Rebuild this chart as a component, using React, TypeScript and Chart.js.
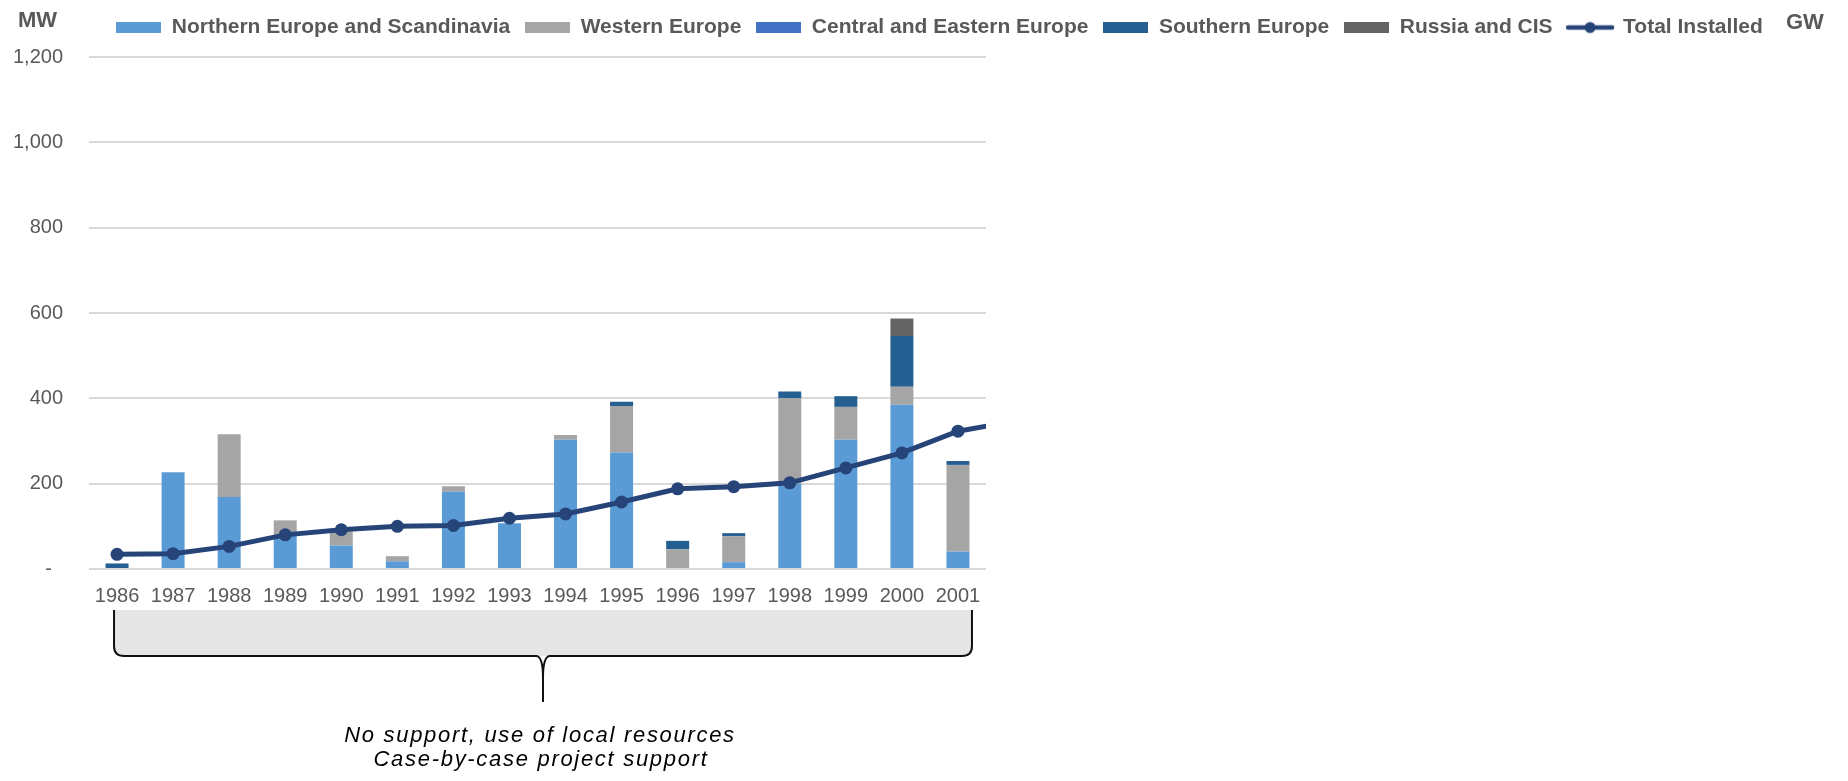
import { useEffect, useRef } from 'react';
import { Chart, registerables } from 'chart.js';

Chart.register(...registerables);

const FONT = '"Liberation Sans", Arial, Helvetica, sans-serif';
const TEXT_GREY = '#595959';

// Years shown on the category axis
const years = ['1986', '1987', '1988', '1989', '1990', '1991', '1992', '1993', '1994', '1995', '1996', '1997', '1998', '1999', '2000', '2001'];

// Annual installations per region, MW
const northernEurope = [0, 227, 169, 80, 55, 18, 181, 107, 303, 273, 0, 16, 200, 303, 385, 41];
const westernEurope = [0, 0, 147, 34, 33, 12, 13, 0, 11, 109, 46, 61, 200, 77, 42, 203];
const centralEasternEurope = [0, 0, 0, 0, 0, 0, 0, 0, 0, 0, 0, 0, 0, 0, 0, 0];
const southernEurope = [13, 0, 0, 0, 0, 0, 0, 0, 0, 10, 20, 7, 16, 25, 119, 9];
const russiaCis = [0, 0, 0, 0, 0, 0, 0, 0, 0, 0, 0, 0, 0, 0, 41, 0];

// Cumulative capacity, GW (last value is 2002, reached beyond the right edge of the plot)
const totalInstalledGW = [0.345, 0.36, 0.53, 0.8, 0.92, 1.0, 1.02, 1.19, 1.29, 1.57, 1.88, 1.93, 2.02, 2.37, 2.72, 3.23, 3.46];

// Left axis ticks, MW
const mwTicks = [0, 200, 400, 600, 800, 1000, 1200];

const COLORS = {
  northern: '#5B9BD5',
  western: '#A5A5A5',
  central: '#4472C4',
  southern: '#255E91',
  russia: '#636363',
  total: '#264478',
};

const footerLines = ['No support, use of local resources', 'Case-by-case project support'];

function rectMarker(color: string): HTMLCanvasElement {
  const c = document.createElement('canvas');
  c.width = 45;
  c.height = 11;
  const g = c.getContext('2d')!;
  g.fillStyle = color;
  g.fillRect(0, 0, 45, 11);
  return c;
}

function lineMarker(color: string): HTMLCanvasElement {
  const c = document.createElement('canvas');
  c.width = 50;
  c.height = 14;
  const g = c.getContext('2d')!;
  g.strokeStyle = color;
  g.lineWidth = 4.5;
  g.lineCap = 'round';
  g.beginPath();
  g.moveTo(3, 7);
  g.lineTo(47, 7);
  g.stroke();
  g.fillStyle = color;
  g.beginPath();
  g.arc(25, 7, 5.5, 0, Math.PI * 2);
  g.fill();
  return c;
}

// Leaves room between the legend row and the top of the plot
const legendGap = {
  id: 'legendGap',
  beforeLayout(chart: any) {
    const lg = chart.legend;
    if (lg && !lg.__gapPatched) {
      const orig = lg.fit;
      lg.fit = function (this: any) {
        orig.call(this);
        this.height += 9;
      };
      lg.__gapPatched = true;
    }
  },
};

// Unit captions and the bracket with its notes under the year axis
const decorations = {
  id: 'decorations',
  afterDraw(chart: any) {
    const { ctx, chartArea } = chart;
    const x = chart.scales.x;
    ctx.save();

    ctx.fillStyle = TEXT_GREY;
    ctx.font = `bold 22px ${FONT}`;
    ctx.textAlign = 'left';
    ctx.textBaseline = 'alphabetic';
    ctx.fillText('MW', 18, 27);
    ctx.fillText('GW', 1786, 29);

    const left = x.getPixelForValue(0) - 3;
    const right = x.getPixelForValue(years.length - 1) + 14;
    const mid = (left + right) / 2;
    const top = chartArea.bottom + 41;
    const base = chartArea.bottom + 87;
    const tip = chartArea.bottom + 133;
    const r = 10;

    ctx.fillStyle = '#E7E6E6';
    ctx.beginPath();
    ctx.moveTo(left, top);
    ctx.lineTo(left, base - r);
    ctx.quadraticCurveTo(left, base, left + r, base);
    ctx.lineTo(right - r, base);
    ctx.quadraticCurveTo(right, base, right, base - r);
    ctx.lineTo(right, top);
    ctx.closePath();
    ctx.fill();

    ctx.strokeStyle = '#111111';
    ctx.lineWidth = 2;
    ctx.beginPath();
    ctx.moveTo(left, top);
    ctx.lineTo(left, base - r);
    ctx.quadraticCurveTo(left, base, left + r, base);
    ctx.lineTo(mid - 7, base);
    ctx.quadraticCurveTo(mid, base, mid, base + 22);
    ctx.lineTo(mid, tip);
    ctx.moveTo(mid, base + 22);
    ctx.quadraticCurveTo(mid, base, mid + 7, base);
    ctx.lineTo(right - r, base);
    ctx.quadraticCurveTo(right, base, right, base - r);
    ctx.lineTo(right, top);
    ctx.stroke();

    ctx.fillStyle = '#000000';
    ctx.font = `italic 22px ${FONT}`;
    (ctx as any).letterSpacing = '1.7px';
    ctx.textAlign = 'center';
    ctx.fillText(footerLines[0], mid - 3, chartArea.bottom + 173);
    ctx.fillText(footerLines[1], mid - 2, chartArea.bottom + 197);
    ctx.restore();
  },
};

export default function App() {
  const canvasRef = useRef<HTMLCanvasElement | null>(null);

  useEffect(() => {
    if (!canvasRef.current) return;
    const markers = [
      rectMarker(COLORS.northern),
      rectMarker(COLORS.western),
      rectMarker(COLORS.central),
      rectMarker(COLORS.southern),
      rectMarker(COLORS.russia),
      lineMarker(COLORS.total),
    ];

    const barCommon = {
      type: 'bar' as const,
      grouped: false,
      barPercentage: 0.41,
      categoryPercentage: 1,
      order: 1,
      borderWidth: 0,
    };

    const chart = new Chart(canvasRef.current, {
      data: {
        labels: years,
        datasets: [
          { ...barCommon, label: 'Northern Europe and Scandinavia', data: northernEurope, backgroundColor: COLORS.northern },
          { ...barCommon, label: 'Western Europe', data: westernEurope, backgroundColor: COLORS.western },
          { ...barCommon, label: 'Central and Eastern Europe', data: centralEasternEurope, backgroundColor: COLORS.central },
          { ...barCommon, label: 'Southern Europe', data: southernEurope, backgroundColor: COLORS.southern },
          { ...barCommon, label: 'Russia and CIS', data: russiaCis, backgroundColor: COLORS.russia },
          {
            type: 'line' as const,
            label: 'Total Installed',
            data: totalInstalledGW.map((v, i) => ({ x: i, y: v })),
            xAxisID: 'xLine',
            yAxisID: 'y1',
            borderColor: COLORS.total,
            backgroundColor: COLORS.total,
            borderWidth: 5,
            pointRadius: 6.5,
            pointBackgroundColor: COLORS.total,
            pointBorderWidth: 0,
            tension: 0,
            order: 0,
          } as any,
        ],
      },
      options: {
        animation: false,
        responsive: false,
        devicePixelRatio: 1,
        font: { family: FONT },
        layout: { padding: { top: 2, left: 31, right: 0, bottom: 158 } },
        plugins: {
          tooltip: { enabled: false },
          title: { display: false },
          legend: {
            position: 'top',
            labels: {
              font: { family: FONT, size: 21, weight: 'bold' },
              color: TEXT_GREY,
              usePointStyle: true,
              pointStyleWidth: 45,
              boxHeight: 11,
              padding: 15,
              sort: (a: any, b: any) => a.datasetIndex - b.datasetIndex,
              generateLabels: (ch: any) => {
                const items = Chart.defaults.plugins.legend.labels.generateLabels(ch);
                items.forEach((it: any) => {
                  it.pointStyle = markers[it.datasetIndex];
                  it.fontColor = TEXT_GREY;
                });
                return items;
              },
            },
          },
        },
        scales: {
          x: {
            type: 'category',
            stacked: true,
            offset: true,
            grid: { display: false, drawTicks: false },
            border: { display: false },
            ticks: { font: { family: FONT, size: 20 }, color: TEXT_GREY, padding: 15, maxRotation: 0, autoSkip: false },
          },
          xLine: {
            type: 'linear',
            display: false,
            offset: false,
            min: -0.5,
            max: years.length - 0.5,
          },
          y: {
            type: 'linear',
            stacked: true,
            min: mwTicks[0],
            max: mwTicks[mwTicks.length - 1],
            afterFit: (s: any) => {
              s.width = 58;
              // tick labels may reach past the axis box into the left margin
              s._computeLabelArea = () => undefined;
            },
            afterBuildTicks: (s: any) => {
              s.ticks = mwTicks.map((v) => ({ value: v }));
            },
            grid: { color: '#D9D9D9', lineWidth: 2, drawTicks: false },
            border: { display: false },
            ticks: {
              font: { family: FONT, size: 20 },
              color: TEXT_GREY,
              padding: 26,
              callback: (v: any) => (Number(v) === 0 ? '-  ' : Number(v).toLocaleString('en-US')),
            },
          },
          y1: {
            type: 'linear',
            position: 'right',
            min: 0,
            max: 12,
            afterFit: (s: any) => {
              s.width = 862;
            },
            grid: { display: false, drawTicks: false },
            border: { display: false },
            ticks: { display: false },
          },
        },
      } as any,
      plugins: [legendGap, decorations],
    });

    return () => chart.destroy();
  }, []);

  return (
    <div style={{ position: 'fixed', left: 0, top: 0, width: 1848, height: 781, background: '#ffffff' }}>
      <canvas ref={canvasRef} width={1848} height={781} style={{ display: 'block', width: 1848, height: 781 }} />
    </div>
  );
}
